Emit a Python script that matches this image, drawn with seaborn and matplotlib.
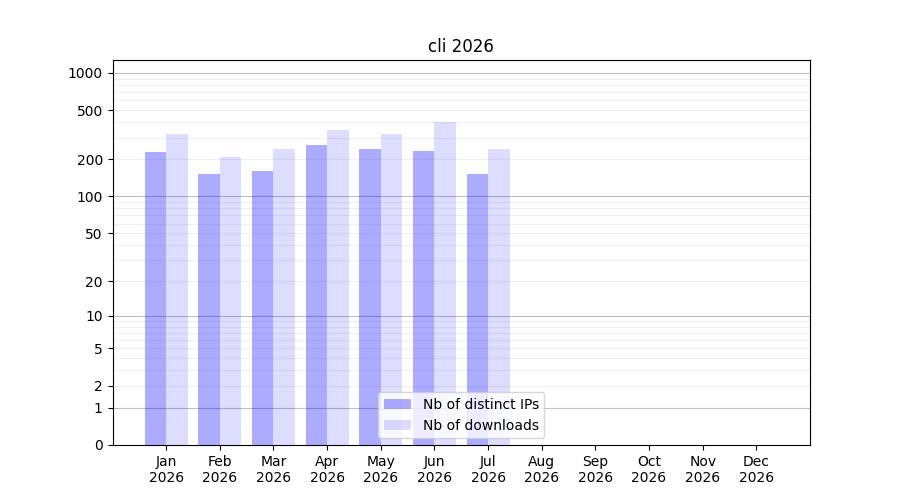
import numpy as np
import pandas as pd
import matplotlib
matplotlib.use("Agg")
import matplotlib.pyplot as plt
import seaborn as sns
from matplotlib.patches import Patch

# === Data ===
months = ["Jan", "Feb", "Mar", "Apr", "May", "Jun", "Jul", "Aug", "Sep", "Oct", "Nov", "Dec"]
year = "2026"
distinct_ips = [230, 152, 161, 262, 243, 234, 152, 0, 0, 0, 0, 0]
downloads = [321, 209, 243, 346, 321, 402, 243, 0, 0, 0, 0, 0]
series_names = ["Nb of distinct IPs", "Nb of downloads"]
y_ticks = [0, 1, 2, 5, 10, 20, 50, 100, 200, 500, 1000]

labels = [f"{m}\n{year}" for m in months]
df = pd.DataFrame({
    "month": labels * 2,
    "count": distinct_ips + downloads,
    "series": [series_names[0]] * len(months) + [series_names[1]] * len(months),
})

plt.rcParams["font.family"] = ["DejaVu Sans"]

fig, ax = plt.subplots(figsize=(9, 5), dpi=100)

# log(1+x) scale so that 0 can be shown
ax.set_yscale("function", functions=(lambda v: np.log10(1 + np.maximum(v, 0)),
                                     lambda v: 10 ** v - 1))

sns.barplot(data=df, x="month", y="count", hue="series", order=labels,
            palette=["blue", "blue"], width=0.8, legend=False, ax=ax,
            saturation=1, linewidth=0, err_kws={"linewidth": 0})

alphas = [0.33, 0.135]
for cont, a in zip(ax.containers, alphas):
    for p in cont:
        p.set_alpha(a)
        p.set_edgecolor("none")

# grid: darker at decades, light in between
for dec in [1, 10, 100, 1000]:
    ax.axhline(dec, color="0.5", alpha=0.5, lw=0.8, zorder=0.5)
    if dec < 1000:
        for k in range(2, 10):
            ax.axhline(dec * k, color="0.5", alpha=0.12, lw=0.8, zorder=0.5)

ax.set_yticks(y_ticks)
ax.set_yticklabels([str(t) for t in y_ticks])
ax.minorticks_off()
ax.set_ylim(0, 1270)
ax.set_xlim(-1, 12)

ax.set_title("cli 2026")
ax.set_xlabel("")
ax.set_ylabel("")

handles = [Patch(facecolor="blue", alpha=a, label=n) for a, n in zip(alphas, series_names)]
ax.legend(handles=handles, loc="lower center")

plt.savefig("out.png")
